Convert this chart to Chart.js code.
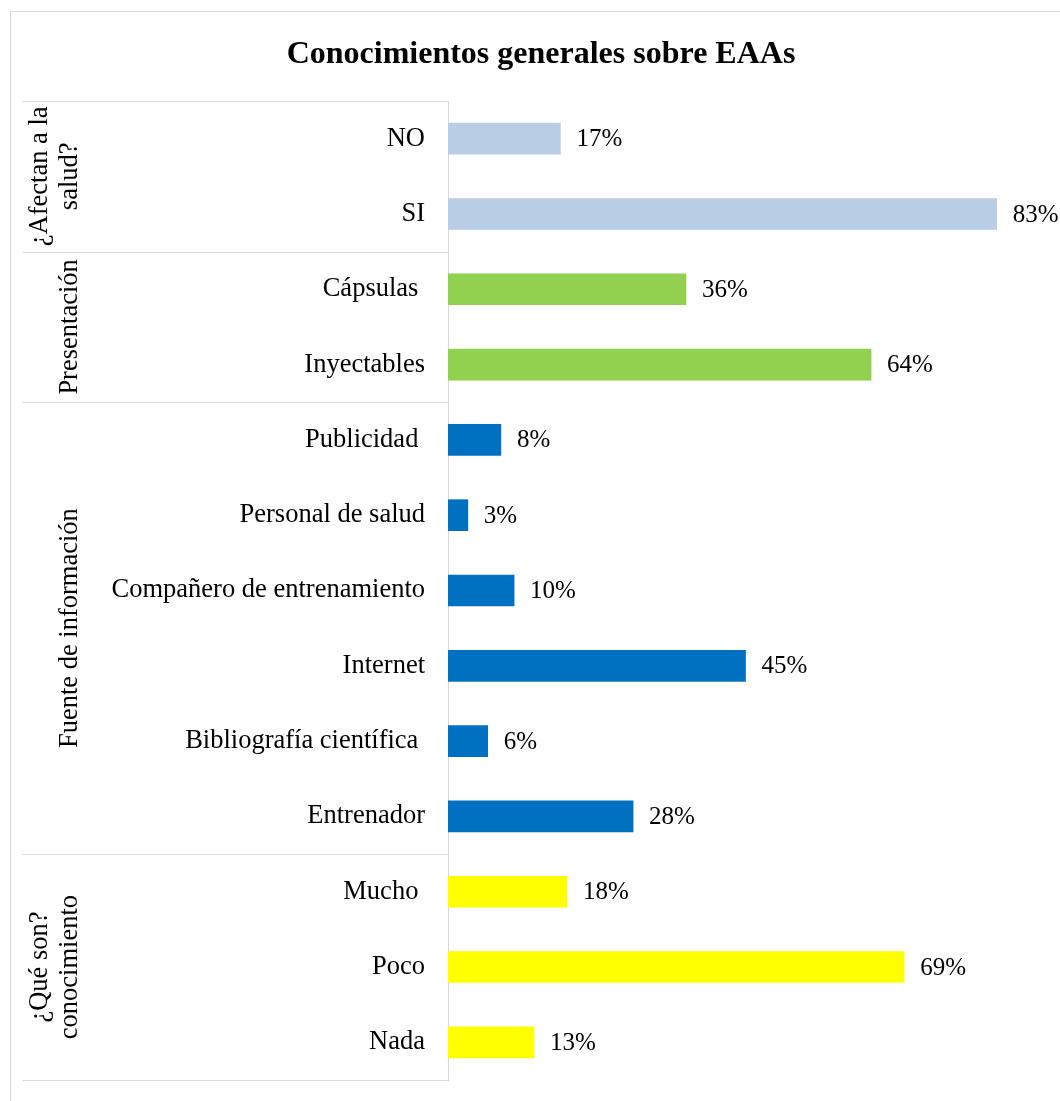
<!DOCTYPE html>
<html>
<head>
<meta charset="utf-8">
<script src="https://cdn.jsdelivr.net/npm/chart.js"></script>
<style>
  html, body { margin: 0; padding: 0; background: #fff; }
  #wrap { width: 1060px; height: 1101px; position: relative; }
</style>
</head>
<body>
<div id="wrap"><canvas id="chart"></canvas></div>
<script>
// ── data ──
const title = 'Conocimientos generales sobre EAAs';
const categories = [
  'NO', 'SI',
  'Cápsulas ', 'Inyectables',
  'Publicidad ', 'Personal de salud', 'Compañero de entrenamiento', 'Internet', 'Bibliografía científica ', 'Entrenador',
  'Mucho ', 'Poco', 'Nada'
];
const values = [17, 83, 36, 64, 8, 3, 10, 45, 6, 28, 18, 69, 13];

// groups along the category axis (top to bottom)
const groupNames = [
  ['¿Afectan a la', 'salud?'],
  ['Presentación'],
  ['Fuente de información'],
  ['¿Qué son?', 'conocimiento']
];
const groupSizes = [2, 2, 6, 3];
const groupColors = ['#B9CDE5', '#92D050', '#0070C0', '#FFFF00'];

// one colour per bar, taken from its group
const barColors = [];
groupSizes.forEach((n, g) => { for (let i = 0; i < n; i++) barColors.push(groupColors[g]); });

const FONT = '"Liberation Serif", "Times New Roman", serif';
const LINE = '#D9D9D9';

// ── custom drawing: frame, title, group labels, value labels ──
const decorations = {
  id: 'decorations',
  afterDraw(chart) {
    const ctx = chart.ctx;
    const area = chart.chartArea;
    const yScale = chart.scales.y;
    const axisLeft = 23;

    ctx.save();

    // outer frame
    ctx.strokeStyle = LINE;
    ctx.lineWidth = 1;
    ctx.strokeRect(10.5, 11.5, chart.width + 20, chart.height + 20);

    // title
    ctx.fillStyle = '#000';
    ctx.font = 'bold 32px ' + FONT;
    ctx.textAlign = 'center';
    ctx.textBaseline = 'middle';
    ctx.fillText(title, 541, 55);

    // group separators + labels
    const half = (yScale.getPixelForValue(1) - yScale.getPixelForValue(0)) / 2;
    let start = 0;
    const bounds = [area.top];
    groupSizes.forEach(n => {
      start += n;
      bounds.push(yScale.getPixelForValue(start - 1) + half);
    });

    ctx.beginPath();
    bounds.forEach(b => {
      const yy = Math.round(b) + 0.5;
      ctx.moveTo(axisLeft, yy);
      ctx.lineTo(area.left, yy);
    });
    ctx.stroke();

    ctx.font = '26.5px ' + FONT;
    ctx.textAlign = 'center';
    ctx.textBaseline = 'middle';
    groupNames.forEach((lines, g) => {
      const cy = (bounds[g] + bounds[g + 1]) / 2;
      lines.forEach((txt, i) => {
        const cx = 70 - (lines.length - 1 - i) * 30;
        ctx.save();
        ctx.translate(cx, cy);
        ctx.rotate(-Math.PI / 2);
        ctx.fillText(txt, 0, 0);
        ctx.restore();
      });
    });

    // value labels
    const meta = chart.getDatasetMeta(0);
    ctx.font = '25px ' + FONT;
    ctx.textAlign = 'left';
    meta.data.forEach((bar, i) => {
      ctx.fillText(values[i] + '%', bar.x + 16, bar.y + 1);
    });

    ctx.restore();
  }
};

new Chart(document.getElementById('chart'), {
  type: 'bar',
  data: {
    labels: categories,
    datasets: [{
      data: values,
      backgroundColor: barColors,
      borderWidth: 0,
      barThickness: 31
    }]
  },
  options: {
    indexAxis: 'y',
    responsive: true,
    maintainAspectRatio: false,
    animation: false,
    layout: { padding: { top: 101, bottom: 21, left: 23, right: 17 } },
    plugins: {
      legend: { display: false },
      tooltip: { enabled: false }
    },
    scales: {
      x: {
        display: false,
        min: 0,
        max: 90
      },
      y: {
        grid: { display: false, drawTicks: false },
        border: { display: true, color: LINE, width: 1 },
        ticks: {
          color: '#000',
          font: { family: FONT, size: 26.5 },
          padding: 23
        },
        afterFit(scale) {
          scale.width = 425;
          // the tick padding should not eat into the plot height
          scale.paddingTop = 0;
          scale.paddingBottom = 0;
        }
      }
    }
  },
  plugins: [decorations]
});
</script>
</body>
</html>
